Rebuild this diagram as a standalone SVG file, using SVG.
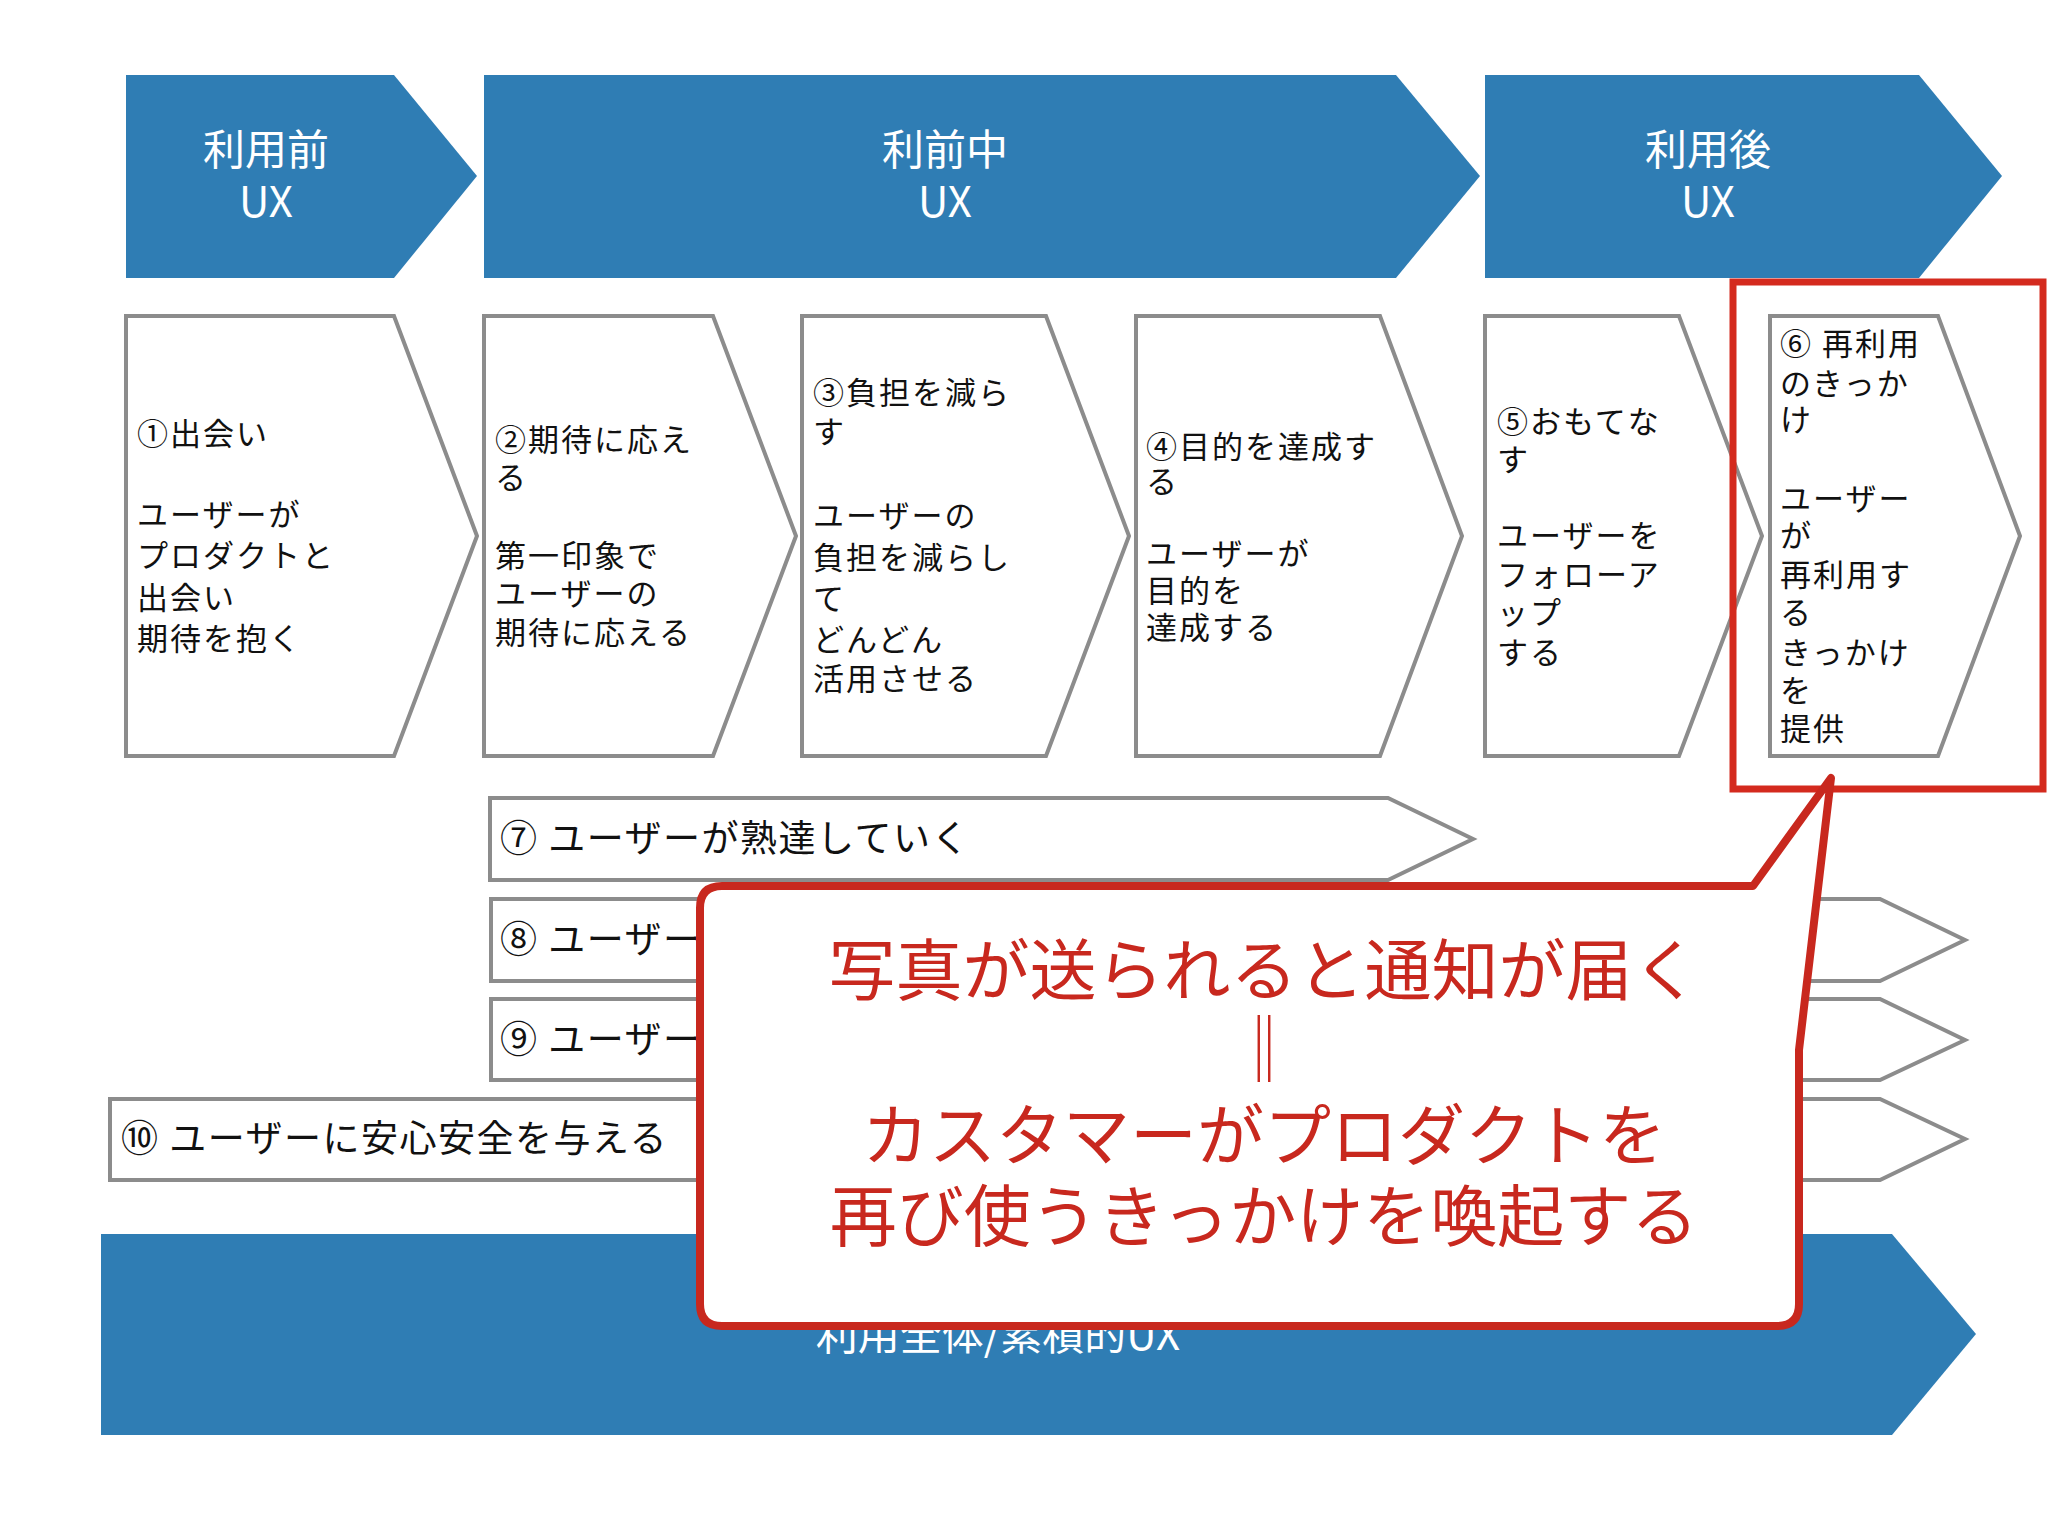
<svg xmlns="http://www.w3.org/2000/svg" width="2048" height="1536" viewBox="0 0 2048 1536">
<style>
.ban{fill:#2f7db4}
.bt{font-family:"Noto Sans CJK JP","Liberation Sans",sans-serif;font-size:42px;fill:#fff;text-anchor:middle}
.box{fill:#fff;stroke:#8c8c8c;stroke-width:4}
.t{font-family:"Noto Sans CJK JP",sans-serif;font-size:31px;letter-spacing:2px;fill:#111}
.rt{font-family:"Noto Sans CJK JP",sans-serif;font-size:37px;letter-spacing:1.5px;fill:#111}
.ct{font-family:"Noto Sans CJK JP",sans-serif;font-size:67px;fill:#c8281e;text-anchor:middle}
</style>
<rect width="2048" height="1536" fill="#fff"/>
<g id="phase1"><polygon class="ban" points="126,75 394,75 477,176 394,278 126,278"/><text class="bt" x="266" y="165">利用前</text><text class="bt" x="266" y="217">UX</text></g>
<g id="phase2"><polygon class="ban" points="484,75 1396,75 1480,176 1396,278 484,278"/><text class="bt" x="945" y="165">利前中</text><text class="bt" x="945" y="217">UX</text></g>
<g id="phase3"><polygon class="ban" points="1485,75 1919,75 2002,176 1919,278 1485,278"/><text class="bt" x="1708" y="165">利用後</text><text class="bt" x="1708" y="217">UX</text></g>

<g id="s1"><polygon class="box" points="126,316 394,316 477,536 394,756 126,756"/>
<text class="t" x="137"><tspan y="445">①出会い</tspan><tspan x="137" y="526">ユーザーが</tspan><tspan x="137" y="567">プロダクトと</tspan><tspan x="137" y="609">出会い</tspan><tspan x="137" y="650">期待を抱く</tspan></text></g>
<g id="s2"><polygon class="box" points="484,316 713,316 796,536 713,756 484,756"/>
<text class="t" x="495" font-size="30"><tspan y="451">②期待に応え</tspan><tspan x="495" y="489">る</tspan><tspan x="495" y="567">第一印象で</tspan><tspan x="495" y="605">ユーザーの</tspan><tspan x="495" y="644">期待に応える</tspan></text></g>
<g id="s3"><polygon class="box" points="802,316 1046,316 1129,536 1046,756 802,756"/>
<text class="t" x="813"><tspan y="404">③負担を減ら</tspan><tspan x="813" y="443">す</tspan><tspan x="813" y="527">ユーザーの</tspan><tspan x="813" y="569">負担を減らし</tspan><tspan x="813" y="610">て</tspan><tspan x="813" y="651">どんどん</tspan><tspan x="813" y="690">活用させる</tspan></text></g>
<g id="s4"><polygon class="box" points="1136,316 1380,316 1462,536 1380,756 1136,756"/>
<text class="t" x="1146" font-size="29"><tspan y="458">④目的を達成す</tspan><tspan x="1146" y="493">る</tspan><tspan x="1146" y="565">ユーザーが</tspan><tspan x="1146" y="602">目的を</tspan><tspan x="1146" y="639">達成する</tspan></text></g>
<g id="s5"><polygon class="box" points="1485,316 1679,316 1762,536 1679,756 1485,756"/>
<text class="t" x="1497"><tspan y="433">⑤おもてな</tspan><tspan x="1497" y="471">す</tspan><tspan x="1497" y="547">ユーザーを</tspan><tspan x="1497" y="586">フォローア</tspan><tspan x="1497" y="624">ップ</tspan><tspan x="1497" y="664">する</tspan></text></g>
<g id="s6"><polygon class="box" points="1770,316 1938,316 2020,536 1938,756 1770,756"/>
<text class="t" x="1780" font-size="30"><tspan y="355">⑥ 再利用</tspan><tspan x="1780" y="395">のきっか</tspan><tspan x="1780" y="431">け</tspan><tspan x="1780" y="510">ユーザー</tspan><tspan x="1780" y="547">が</tspan><tspan x="1780" y="586">再利用す</tspan><tspan x="1780" y="624">る</tspan><tspan x="1780" y="664">きっかけ</tspan><tspan x="1780" y="702">を</tspan><tspan x="1780" y="740">提供</tspan></text></g>
<g id="highlight"><rect x="1733" y="282" width="310" height="507" fill="none" stroke="#d42a1e" stroke-width="7"/></g>

<g id="r7"><polygon class="box" points="490,798 1388,798 1473,839 1388,880 490,880"/><text class="rt" x="500" y="852">⑦ ユーザーが熟達していく</text></g>
<g id="r8"><polygon class="box" points="491,899 1880,899 1965,940 1880,981 491,981"/><text class="rt" x="500" y="953">⑧ ユーザー</text></g>
<g id="r9"><polygon class="box" points="491,999 1880,999 1965,1040 1880,1080 491,1080"/><text class="rt" x="500" y="1053">⑨ ユーザー</text></g>
<g id="r10"><polygon class="box" points="110,1099 1880,1099 1965,1139 1880,1180 110,1180"/><text class="rt" x="121" y="1152">⑩ ユーザーに安心安全を与える</text></g>

<g id="overall"><polygon class="ban" points="101,1234 1892,1234 1976,1334 1892,1435 101,1435"/><text class="bt" x="998" y="1350" font-size="38">利用全体/累積的UX</text></g>

<g id="callout"><path d="M722,886 L1753,886 L1831,778 L1799,1050 L1799,1304 Q1799,1326 1777,1326 L722,1326 Q700,1326 700,1304 L700,908 Q700,886 722,886 Z" fill="#fff" stroke="#c8281e" stroke-width="8" stroke-linejoin="round"/>
<text class="ct" x="1264" y="995">写真が送られると通知が届く</text>
<text class="ct" x="1264" y="1074">‖</text>
<text class="ct" x="1264" y="1160">カスタマーがプロダクトを</text>
<text class="ct" x="1264" y="1241">再び使うきっかけを喚起する</text></g>
</svg>
